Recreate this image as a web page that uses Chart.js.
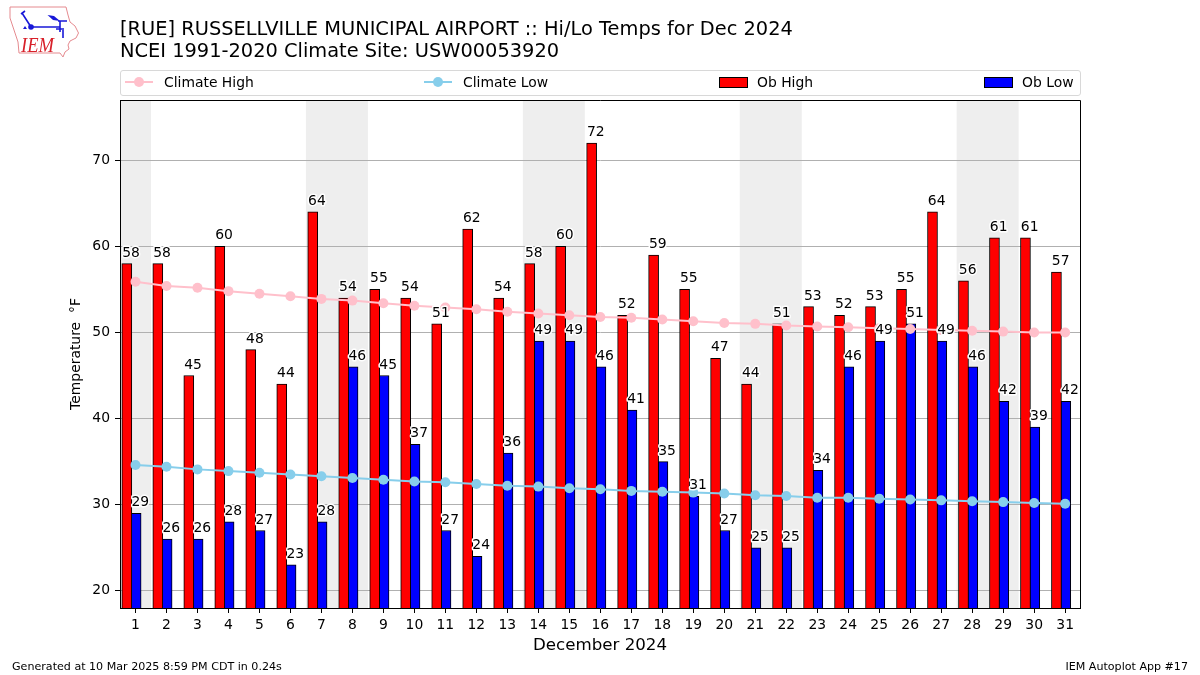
<!DOCTYPE html>
<html>
<head>
<meta charset="utf-8">
<script src="https://cdn.jsdelivr.net/npm/chart.js@4/dist/chart.umd.min.js"></script>
<style>
  body { margin: 0; background: #fff; font-family: "DejaVu Sans", sans-serif; color: #000; }
  #wrap { position: relative; width: 1200px; height: 675px; overflow: hidden; }
  canvas { position: absolute; left: 0; top: 0; }
  .abs { position: absolute; white-space: nowrap; }
  #title { left: 120px; top: 18px; font-size: 19.4px; line-height: 22px; }
  #legend { left: 120px; top: 70px; width: 959px; height: 24px; border: 1px solid #d8d8d8; border-radius: 3px; }
  .item { position: absolute; top: 0; height: 24px; line-height: 22px; font-size: 13.9px; }
  .line { position: absolute; left: 4px; top: 10px; width: 28px; height: 2px; }
  .dot { position: absolute; left: 13px; top: 6px; width: 10px; height: 10px; border-radius: 50%; }
  .box { position: absolute; left: 0; top: 6px; width: 27px; height: 9px; border: 1px solid #000; }
  .foot { font-size: 11.1px; top: 660px; }
</style>
</head>
<body>
<div id="wrap">
  <canvas id="chart" width="1200" height="675"></canvas>

  <svg class="abs" style="left:0;top:0" width="90" height="62" viewBox="0 0 90 62">
    <path d="M10 7 L66 7 L68 15 L70 22 L75 26 L78.5 33 L76 38 L70 41 L68 45 L69 49 L65 52 L63 57 L60 53 L19 53 L18 42 L14 30 L10 18 Z" fill="none" stroke="#e58a8f" stroke-width="1"/>
    <path d="M31 27 L60 27 M22 13 L31 27 M21 14 L25 11 M60 21 L60 32 M56 29 L64 29 M63 30 L63 38 M58 21 L67 21" fill="none" stroke="#1818d8" stroke-width="1.6"/>
    <path d="M47.5 15 L54 16 L60 21 L53 20 Z" fill="#1818d8"/>
    <circle cx="31" cy="27" r="2.8" fill="#1818d8"/>
    <path d="M23 29 L25 26 L27 29 Z" fill="#1818d8"/>
    <text x="21" y="51.5" font-family="Liberation Serif" font-style="italic" font-size="21" fill="#d8202a" textLength="33" lengthAdjust="spacingAndGlyphs">IEM</text>
  </svg>

  <div id="title" class="abs">[RUE] RUSSELLVILLE MUNICIPAL AIRPORT :: Hi/Lo Temps for Dec 2024<br>NCEI 1991-2020 Climate Site: USW00053920</div>

  <div id="legend" class="abs">
    <div class="item" style="left:0;width:290px"><span class="line" style="background:pink"></span><span class="dot" style="background:pink"></span><span style="margin-left:43px">Climate High</span></div>
    <div class="item" style="left:299px;width:290px"><span class="line" style="background:skyblue"></span><span class="dot" style="background:skyblue"></span><span style="margin-left:43px">Climate Low</span></div>
    <div class="item" style="left:598px;width:200px"><span class="box" style="background:red"></span><span style="margin-left:38px">Ob High</span></div>
    <div class="item" style="left:863px;width:90px"><span class="box" style="background:blue"></span><span style="margin-left:38px">Ob Low</span></div>
  </div>

  <div class="abs foot" style="left:12px">Generated at 10 Mar 2025 8:59 PM CDT in 0.24s</div>
  <div class="abs foot" style="right:12px">IEM Autoplot App #17</div>
</div>

<script>
// December 2024 daily values
var days = [1,2,3,4,5,6,7,8,9,10,11,12,13,14,15,16,17,18,19,20,21,22,23,24,25,26,27,28,29,30,31];
var obHigh = [58,58,45,60,48,44,64,54,55,54,51,62,54,58,60,72,52,59,55,47,44,51,53,52,53,55,64,56,61,61,57];
var obLow = [29,26,26,28,27,23,28,46,45,37,27,24,36,49,49,46,41,35,31,27,25,25,34,46,49,51,49,46,42,39,42];
var climateHigh = [55.9,55.4,55.2,54.8,54.5,54.2,53.9,53.7,53.4,53.1,52.9,52.7,52.4,52.2,52.0,51.8,51.7,51.5,51.3,51.1,51.0,50.8,50.7,50.6,50.5,50.4,50.3,50.2,50.1,50.0,50.0];
var climateLow = [34.6,34.4,34.1,33.9,33.7,33.5,33.3,33.1,32.9,32.7,32.6,32.4,32.2,32.1,31.9,31.8,31.6,31.5,31.4,31.3,31.1,31.0,30.8,30.8,30.7,30.6,30.5,30.4,30.3,30.2,30.1];
var yTicks = [20,30,40,50,60,70];
// weekend shading, start and end in day units
var weekends = [[0.5,1.5],[6.5,8.5],[13.5,15.5],[20.5,22.5],[27.5,29.5]];

var FONT = '"DejaVu Sans", sans-serif';

function points(values, shift) {
    return values.map(function(v, i) { return {x: days[i] + shift, y: v}; });
}

// grey bands go down first, before the scales draw their grid
var shading = {
    id: 'shading',
    beforeDraw: function(chart) {
        var a = chart.chartArea, x = chart.scales.x, ctx = chart.ctx;
        ctx.save();
        ctx.fillStyle = '#eeeeee';
        weekends.forEach(function(w) {
            var x0 = Math.max(x.getPixelForValue(w[0]), a.left);
            var x1 = x.getPixelForValue(w[1]);
            ctx.fillRect(x0, a.top, x1 - x0, a.bottom - a.top);
        });
        ctx.restore();
    }
};

// value labels with a white halo, plus the top and right spines
var labels = {
    id: 'labels',
    afterDatasetsDraw: function(chart) {
        var ctx = chart.ctx, a = chart.chartArea;
        var x = chart.scales.x, y = chart.scales.y;
        ctx.save();
        ctx.font = '13.9px ' + FONT;
        ctx.textAlign = 'left';
        ctx.textBaseline = 'alphabetic';
        ctx.lineJoin = 'round';
        function put(values, shift) {
            values.forEach(function(v, i) {
                var px = x.getPixelForValue(days[i] + shift);
                var py = y.getPixelForValue(v) - 7;
                ctx.lineWidth = 3;
                ctx.strokeStyle = '#fff';
                ctx.strokeText(v, px, py);
                ctx.fillStyle = '#000';
                ctx.fillText(v, px, py);
            });
        }
        put(obHigh, -0.43);
        put(obLow, -0.13);
        ctx.strokeStyle = '#000';
        ctx.lineWidth = 1;
        ctx.beginPath();
        ctx.moveTo(a.left, a.top + 0.5);
        ctx.lineTo(a.right + 0.5, a.top + 0.5);
        ctx.lineTo(a.right + 0.5, a.bottom + 1);
        ctx.stroke();
        ctx.restore();
    }
};

var ctx = document.getElementById('chart').getContext('2d');
var chart = new Chart(ctx, {
    type: 'bar',
    data: {
        datasets: [
            {type: 'line', label: 'Climate High', data: points(climateHigh, 0), borderColor: 'pink', backgroundColor: 'pink',
             borderWidth: 2, pointRadius: 5, pointBorderWidth: 0, tension: 0, order: 0},
            {type: 'line', label: 'Climate Low', data: points(climateLow, 0), borderColor: 'skyblue', backgroundColor: 'skyblue',
             borderWidth: 2, pointRadius: 5, pointBorderWidth: 0, tension: 0, order: 0},
            // bars sit left of the tick, the low bar butts against the high bar
            {label: 'Ob High', data: points(obHigh, -0.28), backgroundColor: 'red', borderColor: '#000', borderWidth: 1,
             barThickness: 10, grouped: false, order: 1},
            {label: 'Ob Low', data: points(obLow, 0.02), backgroundColor: 'blue', borderColor: '#000', borderWidth: 1,
             barThickness: 10, grouped: false, order: 1}
        ]
    },
    options: {
        responsive: false,
        animation: false,
        layout: {padding: {top: 100, right: 120, left: 0, bottom: 0}},
        plugins: {legend: {display: false}, title: {display: false}, tooltip: {enabled: false}},
        scales: {
            x: {
                type: 'linear',
                min: 0.5,
                max: 31.48,
                offset: false,
                afterBuildTicks: function(axis) { axis.ticks = days.map(function(d) { return {value: d}; }); },
                afterFit: function(axis) { axis.height = 67; },
                grid: {offset: false, color: 'rgba(0,0,0,0)', tickColor: '#000', tickLength: 5},
                border: {color: '#000', width: 1},
                ticks: {autoSkip: false, maxRotation: 0, color: '#000', font: {family: FONT, size: 13.9}, padding: 4,
                        callback: function(v) { return String(v); }},
                title: {display: true, text: 'December 2024', color: '#000', font: {family: FONT, size: 16.67}, padding: {top: 0, bottom: 19}}
            },
            y: {
                min: 18,
                max: 77,
                afterBuildTicks: function(axis) { axis.ticks = yTicks.map(function(v) { return {value: v}; }); },
                afterFit: function(axis) { axis.width = 120; },
                grid: {color: '#b0b0b0', tickColor: '#000', tickLength: 5},
                border: {color: '#000', width: 1},
                ticks: {color: '#000', font: {family: FONT, size: 13.9}, padding: 5},
                title: {display: true, text: 'Temperature  °F', color: '#000', font: {family: FONT, size: 13.9}, padding: {top: 68, bottom: 0}}
            }
        }
    },
    plugins: [shading, labels]
});
</script>
</body>
</html>
